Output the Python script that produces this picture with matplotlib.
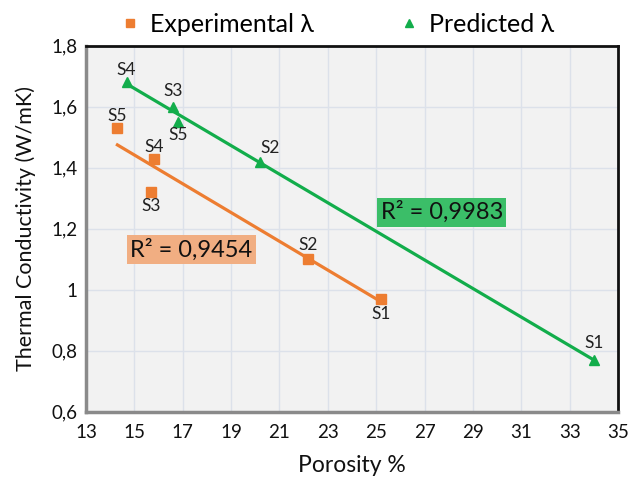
import matplotlib
matplotlib.use("Agg")
import matplotlib.pyplot as plt
import numpy as np

# data
exp_labels = ["S1", "S2", "S3", "S4", "S5"]
exp_porosity = [25.2, 22.2, 15.7, 15.8, 14.3]
exp_lambda = [0.97, 1.10, 1.32, 1.43, 1.53]

pred_labels = ["S1", "S2", "S3", "S4", "S5"]
pred_porosity = [34.0, 20.2, 16.6, 14.7, 16.8]
pred_lambda = [0.77, 1.42, 1.60, 1.68, 1.55]

x_ticks = [13, 15, 17, 19, 21, 23, 25, 27, 29, 31, 33, 35]
y_ticks = [0.6, 0.8, 1.0, 1.2, 1.4, 1.6, 1.8]
y_ticklabels = ["0,6", "0,8", "1", "1,2", "1,4", "1,6", "1,8"]

exp_r2 = "R² = 0,9454"
pred_r2 = "R² = 0,9983"

ORANGE = "#ED7D31"
GREEN = "#12AD4B"

plt.rcParams["font.family"] = ["Lato", "DejaVu Sans"]

fig = plt.figure(figsize=(6.32, 4.8), dpi=100)
ax = fig.add_axes([0.136, 0.142, 0.842, 0.763])
ax.set_facecolor("#F2F2F2")

# linear trendlines
for xs, ys, c in [(exp_porosity, exp_lambda, ORANGE), (pred_porosity, pred_lambda, GREEN)]:
    k, b = np.polyfit(xs, ys, 1)
    xl = np.array([min(xs), max(xs)])
    ax.plot(xl, k * xl + b, color=c, lw=2.3, zorder=2)

ax.plot(exp_porosity, exp_lambda, "s", color=ORANGE, ms=7.5, ls="none",
        label="Experimental λ", zorder=3)
ax.plot(pred_porosity, pred_lambda, "^", color=GREEN, ms=7.5, ls="none",
        label="Predicted λ", zorder=3)

# label offsets (points) for the S-labels
exp_off = {"S1": (0, -11), "S2": (0, 10), "S3": (0, -10), "S4": (0, 8.5), "S5": (0, 9)}
pred_off = {"S1": (0, 12), "S2": (7, 9.5), "S3": (0, 11), "S4": (-1, 8.5), "S5": (0, -9.5)}
for labs, xs, ys, off in [(exp_labels, exp_porosity, exp_lambda, exp_off),
                          (pred_labels, pred_porosity, pred_lambda, pred_off)]:
    for lab, x, y in zip(labs, xs, ys):
        ax.annotate(lab, (x, y), xytext=off[lab], textcoords="offset points",
                    ha="center", va="center", fontsize=12.5, color="#222222")

ax.text(17.36, 1.131, exp_r2, fontsize=17, ha="center", va="center", color="#111111",
        bbox=dict(boxstyle="square,pad=0.15", fc="#F1AE82", ec="none"))
ax.text(27.71, 1.254, pred_r2, fontsize=17, ha="center", va="center", color="#111111",
        bbox=dict(boxstyle="square,pad=0.15", fc="#3BBE68", ec="none"))

ax.set_xlim(13, 35)
ax.set_ylim(0.6, 1.8)
ax.set_xticks(x_ticks)
ax.set_yticks(y_ticks)
ax.set_yticklabels(y_ticklabels)
ax.tick_params(axis="both", length=0, labelsize=13.5, colors="#111111")
ax.tick_params(axis="x", pad=9)
ax.tick_params(axis="y", pad=6)
ax.grid(True, color="#DCE1EA", lw=1)
ax.set_axisbelow(True)

for s in ["left", "bottom"]:
    ax.spines[s].set_color("#8A8A8A")
    ax.spines[s].set_linewidth(2.5)
for s in ["top", "right"]:
    ax.spines[s].set_color("#111111")
    ax.spines[s].set_linewidth(2)

ax.set_xlabel("Porosity %", fontsize=16.5, color="#111111", labelpad=10)
ax.set_ylabel("Thermal Conductivity (W/mK)", fontsize=15.5, color="#111111", labelpad=11)

fig.legend(loc="upper center", bbox_to_anchor=(0.532, 1.02), ncol=2, frameon=False,
           fontsize=18, markerscale=0.8, handletextpad=0.3, columnspacing=3.3,
           handlelength=1.0)

fig.savefig("out.png", dpi=100, facecolor="white")
